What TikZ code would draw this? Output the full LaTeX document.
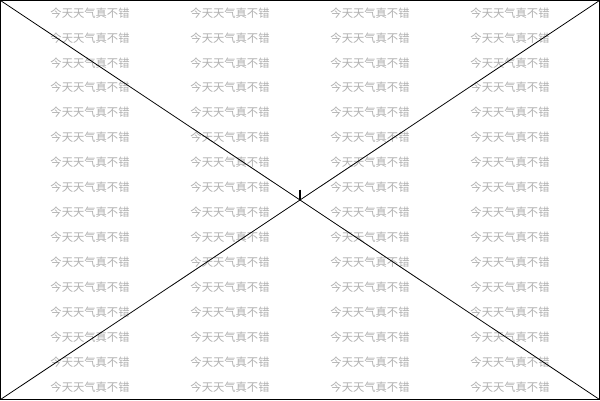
\documentclass[tikz,border=0pt]{standalone}
\usepackage{fontspec}
\newfontfamily\cjk{Noto Sans CJK SC}
\definecolor{wmgray}{HTML}{B0B0B0}
\tikzset{
  wm/.style={text=wmgray, font=\cjk\fontsize{11.3}{12}\selectfont, inner sep=0pt, anchor=center},
  frameline/.style={draw=black, line width=0.8pt},
  tickline/.style={draw=black, line width=1.6pt}
}
\begin{document}
\begin{tikzpicture}[x=1pt,y=-1pt]
\useasboundingbox (0,0) rectangle (600,400);
\fill[white] (0,0) rectangle (600,400);
\foreach \c [count=\i] in {90,230,370,510}{
  \foreach \r in {0,...,15}{
    \node[wm] (t\i-\r) at (\c,{12.8+24.95*\r}) {今天天气真不错};
  }
}
\coordinate (tl) at (0.5,0.5);
\coordinate (tr) at (599.5,0.5);
\coordinate (bl) at (0.5,399.5);
\coordinate (br) at (599.5,399.5);
\coordinate (tickA) at (300,189.5);
\coordinate (tickB) at (300,199.5);
\draw[frameline] (tl) rectangle (br);
\draw[frameline] (tl) -- (br);
\draw[frameline] (tr) -- (bl);
\draw[tickline] (tickA) -- (tickB);
\end{tikzpicture}
\end{document}
